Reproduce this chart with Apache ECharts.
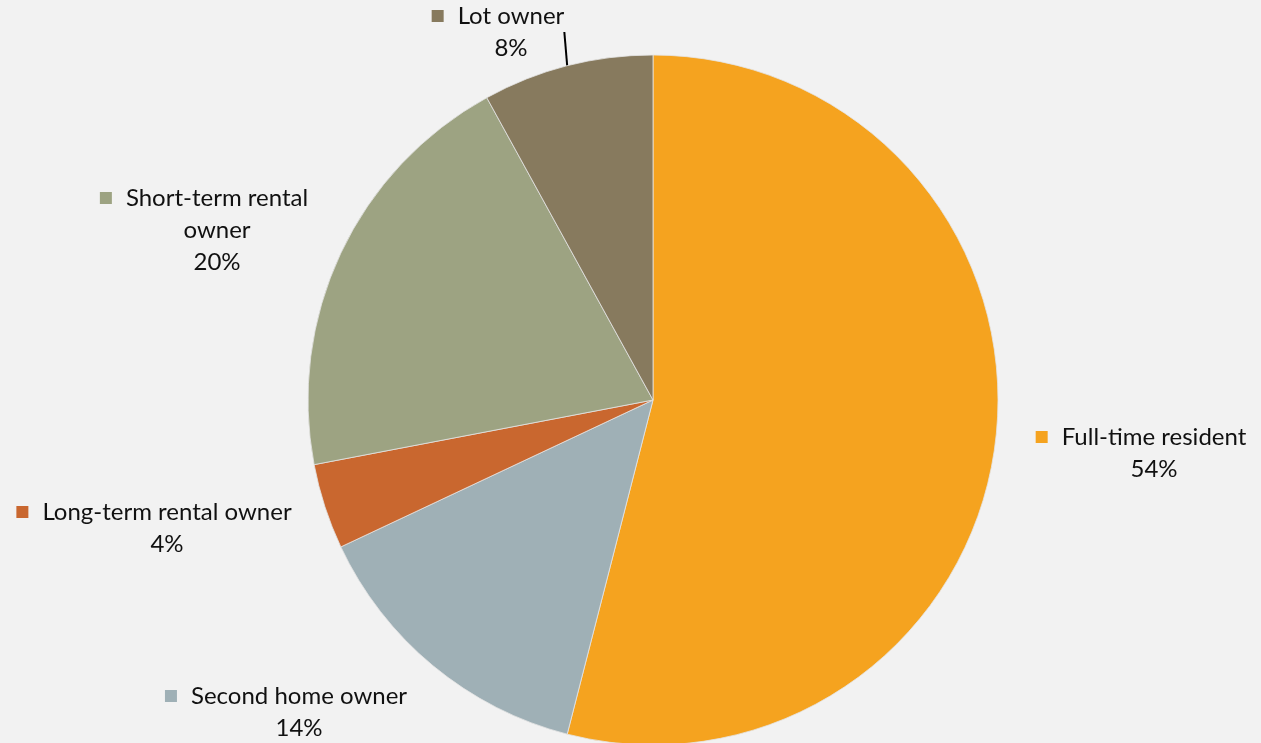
<!DOCTYPE html>
<html lang="en">
<head>
  <meta charset="UTF-8">
  <title>Owner type</title>
  <style>
    * { margin: 0; padding: 0; }
    html, body { background: #f2f2f2; }
    #main { width: 1261px; height: 743px; }
  </style>
</head>
<body>
  <div id="main"></div>
  <script src="https://cdn.jsdelivr.net/npm/echarts@6/dist/echarts.min.js"></script>
  <script>
    // data
    var categories = ['Full-time resident', 'Second home owner', 'Long-term rental owner', 'Short-term rental owner', 'Lot owner'];
    var shares = [54, 14, 4, 20, 8];
    var colors = ['#f5a31f', '#9fb0b6', '#c9672f', '#9da382', '#877a5e'];
    // label text line breaks (as in the picture)
    var labelNames = ['Full-time resident', 'Second home owner', 'Long-term rental owner', 'Short-term rental\nowner', 'Lot owner'];

    // where each label block sits (center), set by hand
    var labelPos = [
      [1141, 453],
      [286, 712],
      [154, 528],
      [204, 230],
      [498, 32]
    ];

    var myChart = echarts.init(document.getElementById('main'));

    var pieData = categories.map(function (c, i) {
      return {
        name: c,
        value: shares[i],
        itemStyle: { color: colors[i] },
        labelLine: { show: i === 4 }
      };
    });

    var FS = 24; // font size

    var option = {
      backgroundColor: '#f2f2f2',
      animation: false,
      series: [{
        type: 'pie',
        center: [653, 400],
        radius: 345,
        startAngle: 90,
        clockwise: true,
        avoidLabelOverlap: false,
        itemStyle: { borderColor: '#e4e4e4', borderWidth: 0.8 },
        label: {
          show: true,
          position: 'outside',
          color: '#111',
          fontFamily: 'Lato',
          fontSize: FS,
          lineHeight: 32,
          align: 'center',
          formatter: function (p) {
            var idx = p.dataIndex;
            var lines = labelNames[idx].split('\n');
            var s = '{m' + idx + '|}{n|' + lines[0] + '}';
            for (var k = 1; k < lines.length; k++) {
              s += '\n{q|' + lines[k] + '}';
            }
            s += '\n{q|' + p.value + '%}';
            return s;
          },
          rich: (function () {
            var r = {
              n: { fontFamily: 'Lato', fontSize: FS, lineHeight: 32, color: '#111', padding: [0, 0, 0, 14] },
              q: { fontFamily: 'Lato', fontSize: FS, lineHeight: 32, color: '#111', padding: [0, 0, 0, 26] }
            };
            colors.forEach(function (c, i) {
              r['m' + i] = { width: 12, height: 12, backgroundColor: c, lineHeight: 32 };
            });
            return r;
          })()
        },
        labelLine: {
          show: false,
          length: 10,
          length2: 0,
          lineStyle: { color: '#000', width: 2 }
        },
        labelLayout: function (params) {
          var pos = labelPos[params.dataIndex];
          return { x: pos[0], y: pos[1], align: 'center', verticalAlign: 'middle' };
        },
        data: pieData
      }]
    };
    myChart.setOption(option);
  </script>
</body>
</html>
